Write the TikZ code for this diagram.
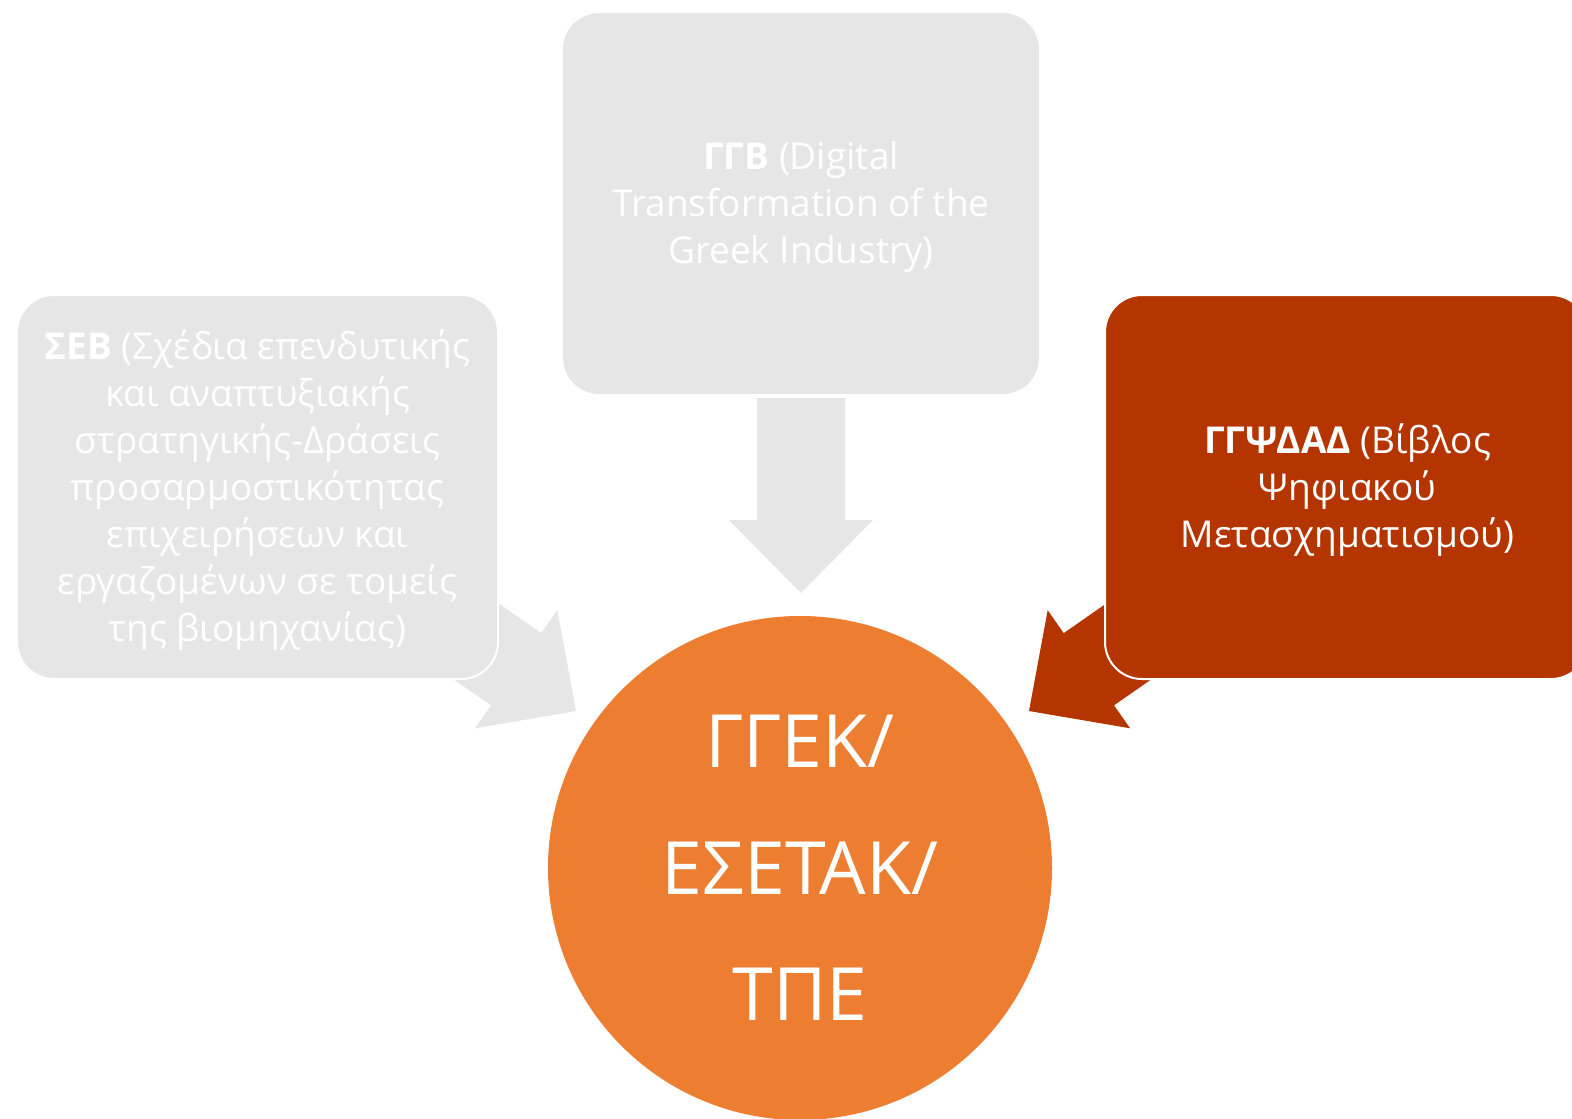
\documentclass[tikz,border=0pt]{standalone}
\usepackage{fontspec}
\setmainfont{Open Sans}
\definecolor{boxgray}{HTML}{E6E6E6}
\definecolor{darkrust}{HTML}{B43500}
\definecolor{accorange}{HTML}{ED7D31}
\begin{document}
\begin{tikzpicture}[x=1pt,y=-1pt,
  infobox/.style={draw=white, line width=2pt, rounded corners=37pt, inner sep=0pt},
  boxtext/.style={inner sep=0pt, align=center, text=white, font=\fontsize{37}{47}\selectfont},
  hubcircle/.style={circle, fill=accorange, inner sep=0pt, minimum size=504pt,
    align=center, text=white, font=\fontsize{73.5}{126.5}\selectfont}
]
\useasboundingbox (0,0) rectangle (1572,1119);
\fill[white] (0,0) rectangle (1572,1119);

% arrow tips
\coordinate (tipD) at (801,593);
\coordinate (tipL) at (576,711);
\coordinate (tipR) at (1029,711);

% block arrows (behind the boxes)
\begin{scope}[shift={(tipD)}, rotate=-90, boxgray]
  \fill (-195,-44) -- (-73,-44) -- (-73,-72) -- (0,0) -- (-73,72) -- (-73,44) -- (-195,44) -- cycle;
\end{scope}
\begin{scope}[shift={(tipL)}, rotate=-34.9, boxgray]
  \fill (-195,-44) -- (-73,-44) -- (-73,-72) -- (0,0) -- (-73,72) -- (-73,44) -- (-195,44) -- cycle;
\end{scope}
\begin{scope}[shift={(tipR)}, rotate=-145.1, darkrust]
  \fill (-195,-44) -- (-73,-44) -- (-73,-72) -- (0,0) -- (-73,72) -- (-73,44) -- (-195,44) -- cycle;
\end{scope}

% boxes
\node[infobox, fill=boxgray, minimum width=478pt, minimum height=383pt] (ggb) at (801,203.5) {};
\node[infobox, fill=boxgray, minimum width=481pt, minimum height=384pt] (seb) at (257.5,487) {};
\node[infobox, fill=darkrust, minimum width=483pt, minimum height=384pt] (ggpsdad) at (1346.5,487) {};

\node[boxtext] (ggbtext) at ([yshift=-3pt]ggb.center)
  {\textbf{ΓΓΒ} (Digital\\Transformation of the\\Greek Industry)};
\node[boxtext] (sebtext) at ([yshift=-3pt]seb.center)
  {\textbf{ΣΕΒ} (Σχέδια επενδυτικής\\και αναπτυξιακής\\στρατηγικής-Δράσεις\\προσαρμοστικότητας\\επιχειρήσεων και\\εργαζομένων σε τομείς\\της βιομηχανίας)};
\node[boxtext] (ggpsdadtext) at ([xshift=1pt,yshift=-3pt]ggpsdad.center)
  {\textbf{ΓΓΨΔΑΔ} (Βίβλος\\Ψηφιακού\\Μετασχηματισμού)};

% hub
\node[hubcircle] (hub) at (800,868) {ΓΓΕΚ/\\ΕΣΕΤΑΚ/\\ΤΠΕ};
\end{tikzpicture}
\end{document}
